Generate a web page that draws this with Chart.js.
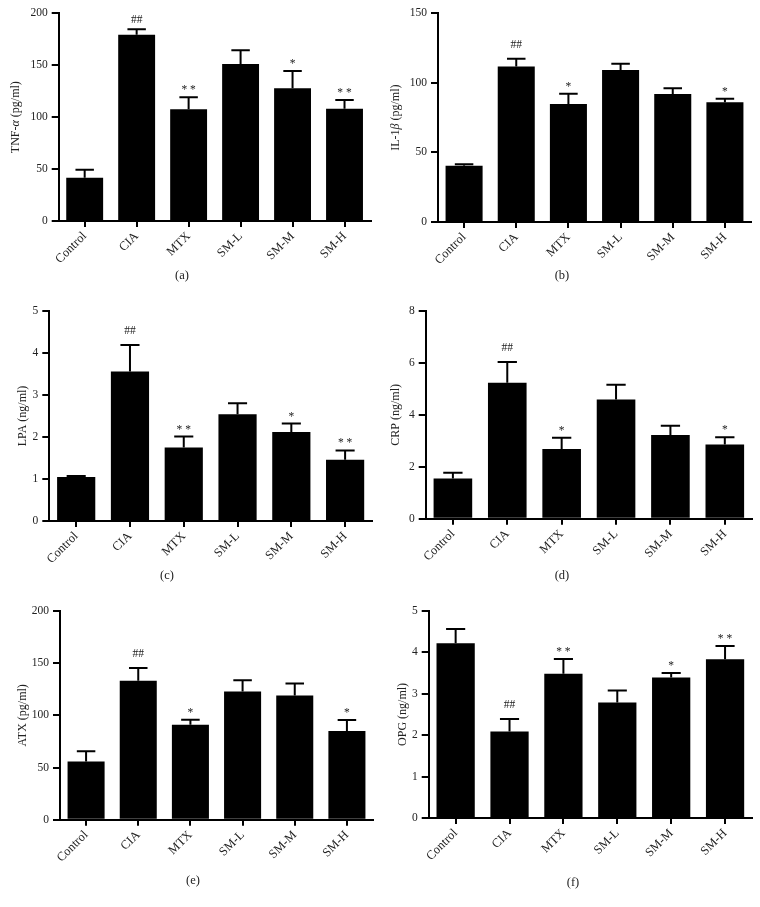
<!DOCTYPE html>
<html>
<head>
<meta charset="utf-8">
<script src="https://cdn.jsdelivr.net/npm/chart.js@4.4.0/dist/chart.umd.min.js"></script>
<style>
  body { margin: 0; background: #fff; width: 760px; height: 907px; position: relative; overflow: hidden; font-family: "Liberation Serif", serif; }
  canvas { position: absolute; }
  .cap { position: absolute; font-size: 12.5px; color: #222; transform: translate(-50%, -50%); }
</style>
</head>
<body>
<script>
const groups = ['Control', 'CIA', 'MTX', 'SM-L', 'SM-M', 'SM-H'];

const tnfMean = [41.7, 179.4, 107.5, 151.2, 127.8, 108.2];
const tnfErr  = [7.7, 5.2, 11.6, 13.2, 16.6, 8.3];
const tnfSig  = ['', '##', '**', '', '*', '**'];
const tnfTicks = [0, 50, 100, 150, 200];

const il1Mean = [40.5, 111.7, 84.8, 109.3, 92.0, 86.0];
const il1Err  = [1.0, 5.7, 7.4, 4.5, 4.1, 2.6];
const il1Sig  = ['', '##', '*', '', '', '*'];
const il1Ticks = [0, 50, 100, 150];

const lpaMean = [1.05, 3.56, 1.75, 2.54, 2.12, 1.46];
const lpaErr  = [0.02, 0.63, 0.26, 0.26, 0.20, 0.22];
const lpaSig  = ['', '##', '**', '', '*', '**'];
const lpaTicks = [0, 1, 2, 3, 4, 5];

const crpMean = [1.55, 5.23, 2.68, 4.59, 3.22, 2.86];
const crpErr  = [0.22, 0.80, 0.44, 0.57, 0.36, 0.28];
const crpSig  = ['', '##', '*', '', '', '*'];
const crpTicks = [0, 2, 4, 6, 8];

const atxMean = [55.7, 133.2, 91.0, 122.8, 119.0, 85.0];
const atxErr  = [9.8, 12.0, 4.7, 10.7, 11.4, 10.4];
const atxSig  = ['', '##', '*', '', '', '*'];
const atxTicks = [0, 50, 100, 150, 200];

const opgMean = [4.22, 2.09, 3.48, 2.79, 3.39, 3.83];
const opgErr  = [0.34, 0.30, 0.36, 0.29, 0.11, 0.32];
const opgSig  = ['', '##', '**', '', '*', '**'];
const opgTicks = [0, 1, 2, 3, 4, 5];

// title parts: [text, italic]
const panels = [
  { cap: '(a)', mean: tnfMean, err: tnfErr, sig: tnfSig, ticks: tnfTicks, title: [['TNF-', 0], ['α', 1], [' (pg/ml)', 0]],
    ox: 0, oy: 0, w: 380, h: 300, left: 58.7, top: 13.3, right: 370.5, bottom: 221, titleX: 16, capX: 182, capY: 275, hashGap: 6 },
  { cap: '(b)', mean: il1Mean, err: il1Err, sig: il1Sig, ticks: il1Ticks, title: [['IL-1', 0], ['β', 1], [' (pg/ml)', 0]],
    ox: 380, oy: 0, w: 380, h: 300, left: 58, top: 13.3, right: 371, bottom: 222, titleX: 16, capX: 182, capY: 275 },
  { cap: '(c)', mean: lpaMean, err: lpaErr, sig: lpaSig, ticks: lpaTicks, title: [['LPA (ng/ml)', 0]],
    ox: 0, oy: 300, w: 380, h: 300, left: 49.3, top: 10, right: 372, bottom: 221, titleX: 23, capX: 167, capY: 275 },
  { cap: '(d)', mean: crpMean, err: crpErr, sig: crpSig, ticks: crpTicks, title: [['CRP (ng/ml)', 0]],
    ox: 380, oy: 300, w: 380, h: 300, left: 45.7, top: 6.7, right: 372, bottom: 218.7, titleX: 16, capX: 182, capY: 275 },
  { cap: '(e)', mean: atxMean, err: atxErr, sig: atxSig, ticks: atxTicks, title: [['ATX (pg/ml)', 0]],
    ox: 0, oy: 600, w: 380, h: 307, left: 60, top: 8, right: 373, bottom: 219.7, titleX: 23, capX: 193, capY: 280 },
  { cap: '(f)', mean: opgMean, err: opgErr, sig: opgSig, ticks: opgTicks, title: [['OPG (ng/ml)', 0]],
    ox: 380, oy: 600, w: 380, h: 307, left: 48.7, top: 6.3, right: 372, bottom: 218, titleX: 23, capX: 193, capY: 282 }
];

const FONT = '"Liberation Serif", "Times New Roman", serif';

function makeExtras(p) {
  return {
    id: 'extras',
    afterDatasetsDraw(chart) {
      const { ctx, chartArea } = chart;
      const y = chart.scales.y;
      const meta = chart.getDatasetMeta(0);
      ctx.save();
      ctx.strokeStyle = '#000';
      ctx.lineWidth = 2;
      ctx.fillStyle = '#222';
      ctx.font = '11.5px ' + FONT;
      ctx.textAlign = 'center';
      ctx.textBaseline = 'alphabetic';
      p.mean.forEach((m, i) => {
        const bar = meta.data[i];
        const cx = bar.x, hw = bar.width / 4;
        const yBar = y.getPixelForValue(m);
        const yTop = y.getPixelForValue(m + p.err[i]);
        ctx.beginPath();
        ctx.moveTo(cx, yBar);
        ctx.lineTo(cx, yTop);
        ctx.moveTo(cx - hw, yTop);
        ctx.lineTo(cx + hw, yTop);
        ctx.stroke();
        const s = p.sig[i];
        if (s) {
          const gap = s[0] === '#' ? (p.hashGap || 11) : 4;
          const txt = s[0] === '#' ? s : s.split('').join(' ');
          ctx.fillText(txt, cx, yTop - gap);
        }
      });
      // y axis title with italic greek letters
      ctx.translate(p.titleX, (chartArea.top + chartArea.bottom) / 2);
      ctx.rotate(-Math.PI / 2);
      ctx.textAlign = 'left';
      ctx.textBaseline = 'middle';
      const fonts = p.title.map(t => (t[1] ? 'italic ' : '') + '12px ' + FONT);
      let total = 0;
      const widths = p.title.map((t, k) => { ctx.font = fonts[k]; const w = ctx.measureText(t[0]).width; total += w; return w; });
      let xx = -total / 2;
      p.title.forEach((t, k) => { ctx.font = fonts[k]; ctx.fillText(t[0], xx, 0); xx += widths[k]; });
      ctx.restore();
    }
  };
}

panels.forEach(p => {
  const cv = document.createElement('canvas');
  cv.width = p.w;
  cv.height = p.h;
  cv.style.left = p.ox + 'px';
  cv.style.top = p.oy + 'px';
  document.body.appendChild(cv);

  const cap = document.createElement('div');
  cap.className = 'cap';
  cap.textContent = p.cap;
  cap.style.left = (p.ox + p.capX) + 'px';
  cap.style.top = (p.oy + p.capY) + 'px';
  document.body.appendChild(cap);

  new Chart(cv.getContext('2d'), {
    type: 'bar',
    data: {
      labels: groups,
      datasets: [{
        data: p.mean,
        backgroundColor: '#000',
        borderWidth: 0,
        barPercentage: 0.71,
        categoryPercentage: 1
      }]
    },
    options: {
      responsive: false,
      animation: false,
      layout: { padding: { top: p.top, right: p.w - p.right, left: 0, bottom: 0 } },
      plugins: { legend: { display: false }, tooltip: { enabled: false } },
      scales: {
        x: {
          offset: true,
          grid: { offset: false, drawOnChartArea: false, drawTicks: true, tickLength: 6, color: '#000', lineWidth: 2 },
          border: { color: '#000', width: 2 },
          ticks: { color: '#222', font: { family: FONT, size: 12.5 }, minRotation: 45, maxRotation: 45, padding: 2 },
          afterFit: s => { s.height = p.h - p.bottom; }
        },
        y: {
          min: p.ticks[0],
          max: p.ticks[p.ticks.length - 1],
          afterBuildTicks: s => { s.ticks = p.ticks.map(v => ({ value: v })); },
          grid: { drawOnChartArea: false, drawTicks: true, tickLength: 7, color: '#000', lineWidth: 2 },
          border: { color: '#000', width: 2 },
          ticks: { color: '#222', font: { family: FONT, size: 11.5 }, padding: 4 },
          afterFit: s => { s.width = p.left; }
        }
      }
    },
    plugins: [makeExtras(p)]
  });
});
</script>
</body>
</html>
